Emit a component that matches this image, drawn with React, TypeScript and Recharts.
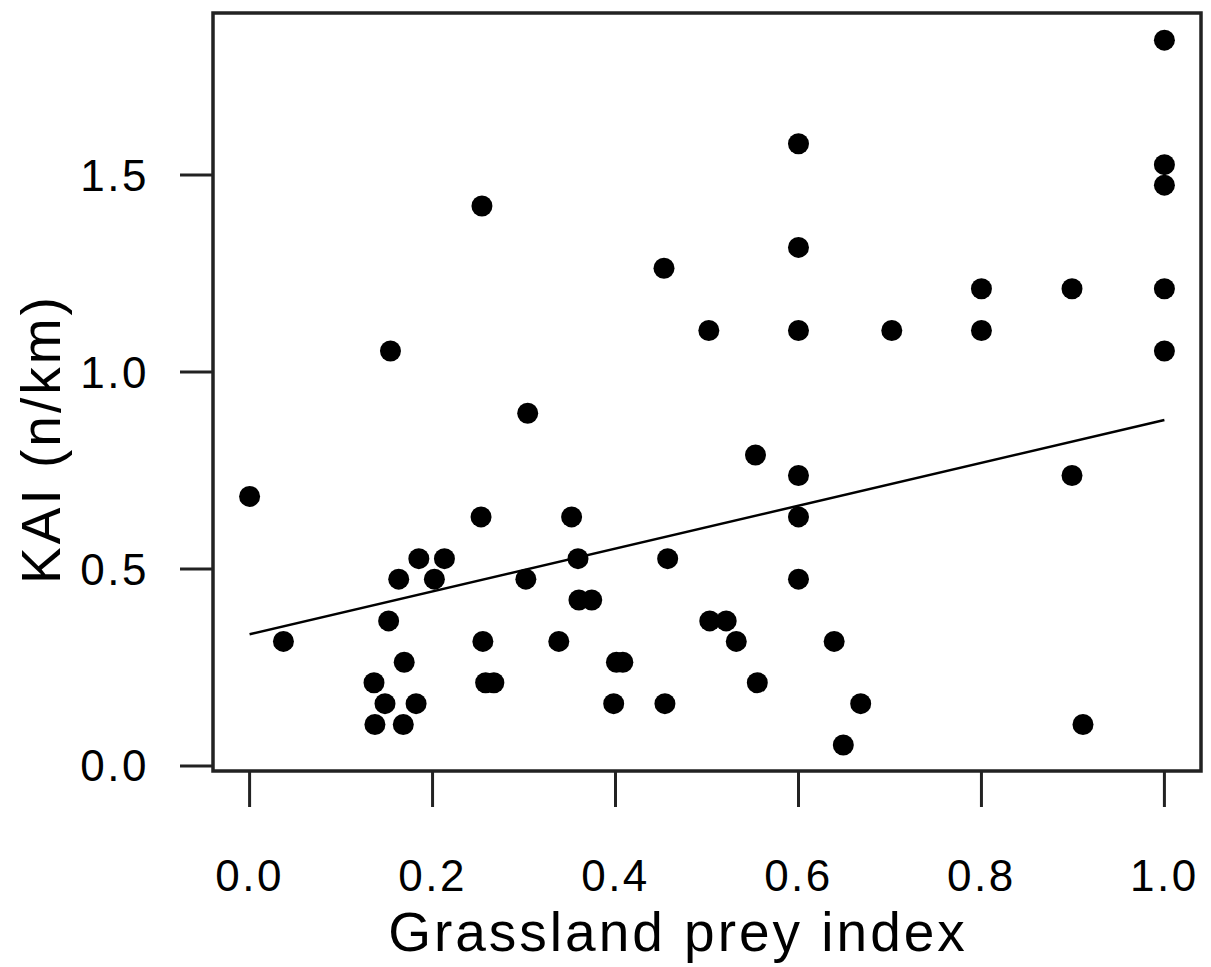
import React from "react";
import {
  ScatterChart,
  Scatter,
  XAxis,
  YAxis,
  ReferenceLine,
  ReferenceArea,
} from "recharts";

// grassland prey index (x) and KAI (y) per transect
const preyIndex = [
  0.0, 0.037, 0.136, 0.137, 0.148, 0.152, 0.154, 0.163, 0.168, 0.169,
  0.182, 0.185, 0.202, 0.213, 0.253, 0.254, 0.255, 0.258, 0.267, 0.302,
  0.304, 0.338, 0.352, 0.359, 0.36, 0.374, 0.398, 0.401, 0.408, 0.453,
  0.454, 0.457, 0.502, 0.503, 0.521, 0.532, 0.553, 0.555, 0.6, 0.6,
  0.6, 0.6, 0.6, 0.6, 0.639, 0.649, 0.668, 0.702, 0.8, 0.8,
  0.899, 0.899, 0.911, 1.0, 1.0, 1.0, 1.0, 1.0,
];
const kai = [
  0.684, 0.316, 0.211, 0.105, 0.158, 0.368, 1.053, 0.474, 0.105, 0.263,
  0.158, 0.526, 0.474, 0.526, 0.632, 1.421, 0.316, 0.211, 0.211, 0.474,
  0.895, 0.316, 0.632, 0.526, 0.421, 0.421, 0.158, 0.263, 0.263, 1.263,
  0.158, 0.526, 1.105, 0.368, 0.368, 0.316, 0.789, 0.211, 1.579, 1.316,
  1.105, 0.737, 0.632, 0.474, 0.316, 0.053, 0.158, 1.105, 1.211, 1.105,
  1.211, 0.737, 0.105, 1.842, 1.526, 1.474, 1.211, 1.053,
];

// fitted regression line end points
const fitX = [0, 1];
const fitY = [0.334, 0.878];

const xTicks = [0, 0.2, 0.4, 0.6, 0.8, 1.0];
const yTicks = [0, 0.5, 1.0, 1.5];
const xDomain = [-0.04, 1.04];
const yDomain = [-0.013, 1.911];

const font = "'Liberation Sans', Arial, Helvetica, sans-serif";

const points = preyIndex.map((x, i) => ({ x, y: kai[i] }));

const Dot = (props: any) => (
  <circle cx={props.cx} cy={props.cy} r={10.5} fill="#000" />
);

const XTitle = ({ viewBox }: any) => {
  const { x, y, width, height } = viewBox;
  return (
    <text
      x={x + width / 2 - 29}
      y={y + height - 16}
      textAnchor="middle"
      fontSize={55}
      letterSpacing={3}
      fill="#000"
      fontFamily={font}
    >
      Grassland prey index
    </text>
  );
};

const YTitle = ({ viewBox }: any) => {
  const cx = viewBox.x + 60;
  const cy = viewBox.y + viewBox.height / 2 + 47;
  return (
    <text
      x={cx}
      y={cy}
      transform={`rotate(-90, ${cx}, ${cy})`}
      textAnchor="middle"
      fontSize={55}
      letterSpacing={3}
      fill="#000"
      fontFamily={font}
    >
      KAI (n/km)
    </text>
  );
};

const tickStyle = {
  fontSize: 44,
  fill: "#000",
  fontFamily: font,
  letterSpacing: 2.5,
};

export default function App() {
  return (
    <div style={{ position: "absolute", left: 0, top: 0, background: "#fff" }}>
      <ScatterChart
        width={1211}
        height={967}
        margin={{ top: 13, right: 10, left: 0, bottom: 0 }}
      >
        <XAxis
          type="number"
          dataKey="x"
          domain={xDomain}
          allowDataOverflow
          ticks={xTicks}
          tickFormatter={(v: number) => v.toFixed(1)}
          height={196}
          axisLine={false}
          tickLine={{ stroke: "#222", strokeWidth: 3 }}
          tickSize={36}
          tickMargin={53}
          tick={tickStyle}
          interval={0}
          label={<XTitle />}
        />
        <YAxis
          type="number"
          dataKey="y"
          domain={yDomain}
          allowDataOverflow
          ticks={yTicks}
          tickFormatter={(v: number) => v.toFixed(1)}
          width={213}
          axisLine={false}
          tickLine={{ stroke: "#222", strokeWidth: 3 }}
          tickSize={33}
          tickMargin={31}
          tick={tickStyle}
          interval={0}
          label={<YTitle />}
        />
        <ReferenceArea
          x1={xDomain[0]}
          x2={xDomain[1]}
          y1={yDomain[0]}
          y2={yDomain[1]}
          fill="none"
          stroke="#222"
          strokeWidth={3.5}
          ifOverflow="visible"
        />
        <Scatter data={points} shape={Dot} isAnimationActive={false} />
        <ReferenceLine
          segment={[
            { x: fitX[0], y: fitY[0] },
            { x: fitX[1], y: fitY[1] },
          ]}
          stroke="#000"
          strokeWidth={2.5}
          ifOverflow="visible"
        />
      </ScatterChart>
    </div>
  );
}
